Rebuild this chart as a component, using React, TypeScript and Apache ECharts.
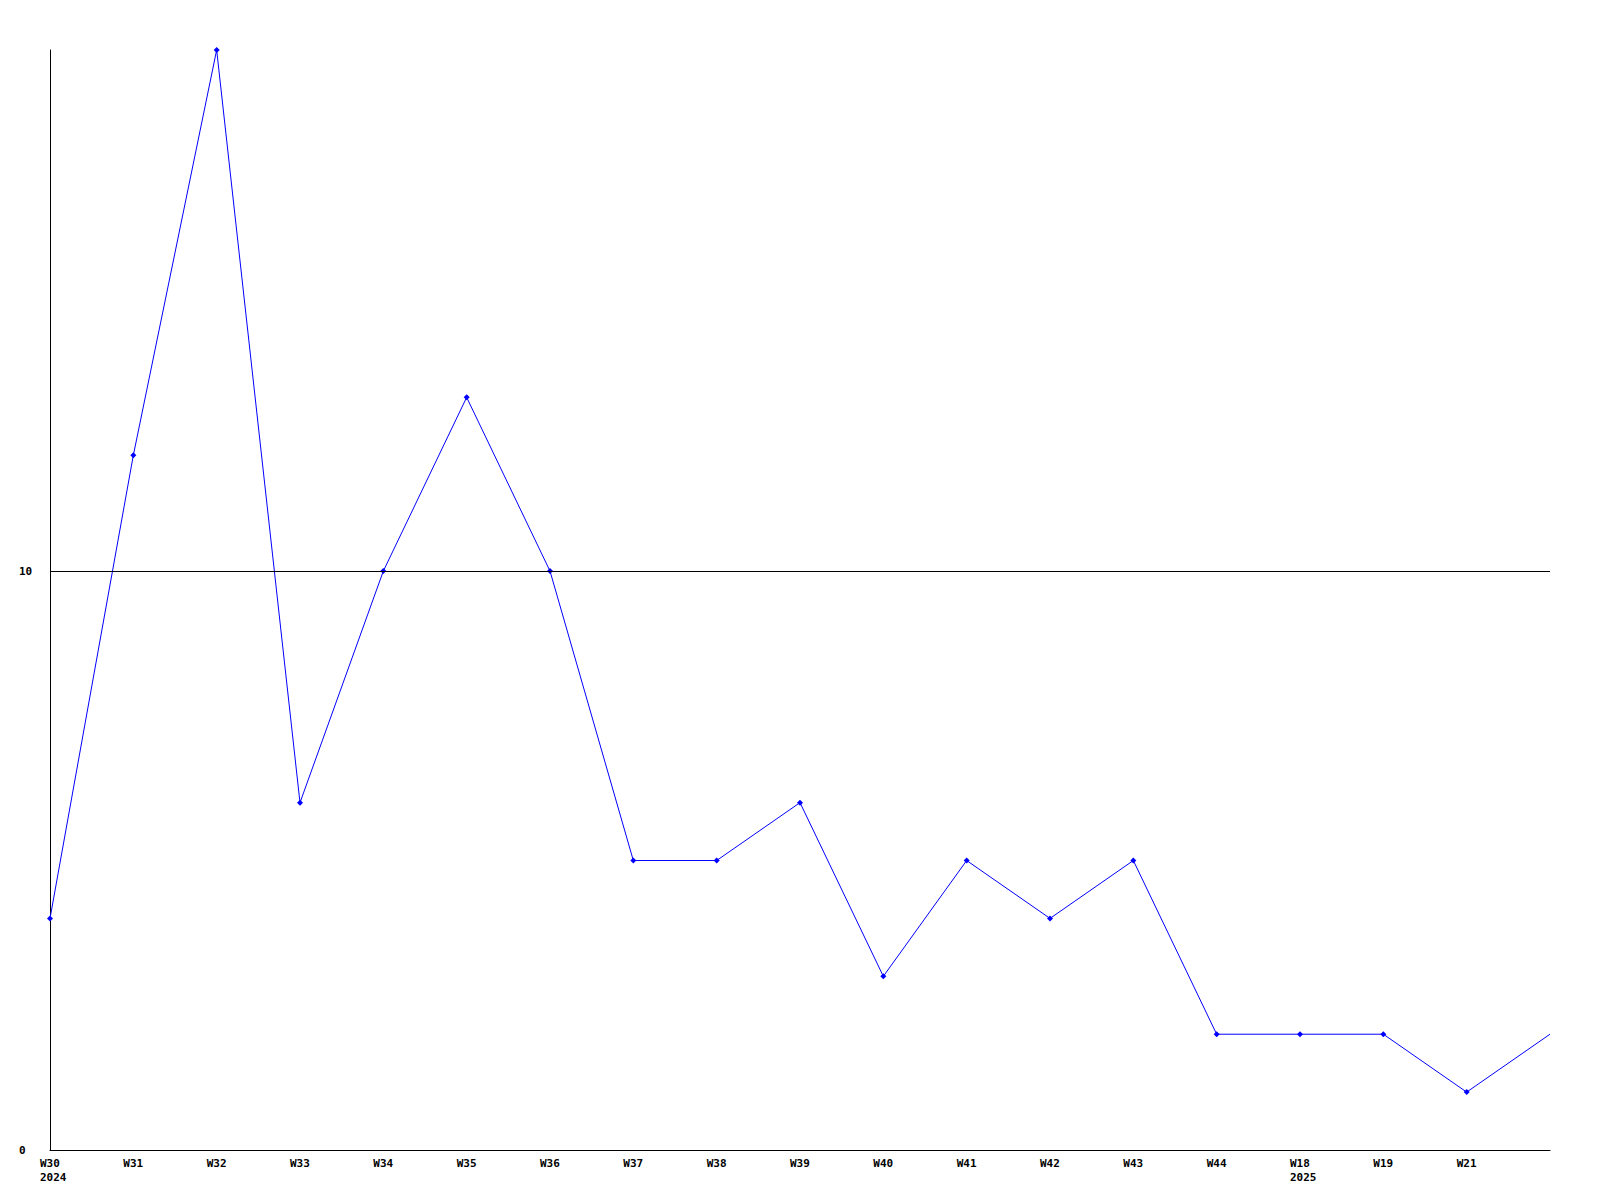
import React, { useEffect, useRef } from "react";
import * as echarts from "echarts";

const weeks = ["W30", "W31", "W32", "W33", "W34", "W35", "W36", "W37", "W38", "W39", "W40", "W41", "W42", "W43", "W44", "W18", "W19", "W21", ""];
const years = ["2024", "", "", "", "", "", "", "", "", "", "", "", "", "", "", "2025", "", "", ""];
const values = [4, 12, 19, 6, 10, 13, 10, 5, 5, 6, 3, 5, 4, 5, 2, 2, 2, 1, 2];
const yTicksShown = [0, 10];
const refLine = 10;

export default function App() {
  const ref = useRef<HTMLDivElement>(null);
  useEffect(() => {
    const chart = echarts.init(ref.current!, null, { renderer: "svg" });
    const labels = weeks.map((w, i) => (years[i] ? w + "\n" + years[i] : w));
    chart.setOption({
      animation: false,
      backgroundColor: "#ffffff",
      grid: { left: 50, right: 50, top: 50, bottom: 50, containLabel: false },
      xAxis: {
        type: "category",
        data: labels,
        boundaryGap: false,
        axisLine: { show: true, lineStyle: { color: "#000", width: 1 } },
        axisTick: { show: false },
        splitLine: { show: false },
        axisLabel: {
          interval: 0,
          margin: 6,
          align: "left",
          padding: [0, 0, 0, -10],
          color: "#000",
          fontFamily: "DejaVu Sans Mono",
          fontWeight: "bold",
          fontSize: 11,
          lineHeight: 14,
        },
      },
      yAxis: {
        type: "value",
        min: 0,
        max: 19,
        interval: 10,
        axisLine: { show: true, lineStyle: { color: "#000", width: 1 } },
        axisTick: { show: false },
        splitLine: { show: false },
        axisLabel: {
          margin: 31,
          align: "left",
          color: "#000",
          fontFamily: "DejaVu Sans Mono",
          fontWeight: "bold",
          fontSize: 11,
          formatter: (v: number) => (yTicksShown.includes(v) ? String(v) : ""),
        },
      },
      series: [
        {
          type: "line",
          data: values.map((v, i) =>
            i === values.length - 1 ? { value: v, symbol: "none" } : v
          ),
          symbol: "diamond",
          symbolSize: 6,
          showAllSymbol: true,
          lineStyle: { color: "#0000ff", width: 1 },
          itemStyle: { color: "#0000ff" },
          markLine: {
            silent: true,
            symbol: "none",
            label: { show: false },
            lineStyle: { color: "#000", width: 1, type: "solid" },
            data: [{ yAxis: refLine }],
          },
        },
      ],
    });
    return () => chart.dispose();
  }, []);
  return (
    <div
      ref={ref}
      style={{ position: "fixed", left: 0, top: 0, width: 1600, height: 1200 }}
    />
  );
}
